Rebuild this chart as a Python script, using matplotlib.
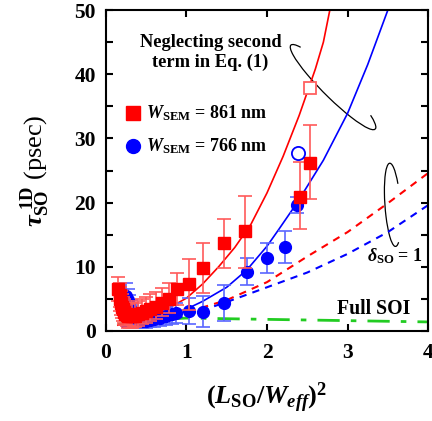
# tau_SO^1D vs (L_SO/W_eff)^2 for two wire widths, with fits and limiting cases.
import matplotlib
matplotlib.use('Agg')
import matplotlib.pyplot as plt
from matplotlib.patches import Arc

plt.rcParams['font.family'] = ['Liberation Serif', 'DejaVu Serif']
plt.rcParams['font.weight'] = 'bold'
plt.rcParams['mathtext.fontset'] = 'custom'
plt.rcParams['mathtext.rm'] = 'Liberation Serif:bold'
plt.rcParams['mathtext.it'] = 'Liberation Serif:italic:bold'
plt.rcParams['mathtext.bf'] = 'Liberation Serif:bold'

RED, BLUE, GREEN = '#ff0000', '#0000ff', '#22cc22'
RED_BAR, BLUE_BAR = '#ff5a5a', '#5a66ff'

# W_SEM = 861 nm (filled squares)
red_x = [0.15, 0.17, 0.18, 0.19, 0.20, 0.21, 0.22, 0.24, 0.26, 0.28, 0.30, 0.33, 0.36,
         0.40, 0.45, 0.50, 0.55, 0.62, 0.70, 0.78, 0.88, 1.03, 1.20, 1.47, 1.73, 2.41, 2.53]
red_y = [6.5, 5.6, 4.9, 4.3, 3.8, 3.4, 3.0, 2.7, 2.5, 2.3, 2.3, 2.3, 2.4,
         2.6, 2.8, 3.1, 3.4, 3.8, 4.3, 5.0, 6.5, 7.3, 9.8, 13.7, 15.6, 20.9, 26.2]
red_lo = [1.8, 1.8, 1.8, 1.8, 1.8, 1.8, 1.8, 1.8, 1.8, 1.8, 1.8, 1.8, 1.8,
          1.8, 1.8, 1.8, 1.8, 2.0, 2.0, 2.2, 2.4, 4.0, 3.9, 3.9, 5.8, 5.0, 5.6]
red_hi = [1.9, 1.9, 1.9, 1.9, 1.9, 1.9, 1.9, 1.9, 1.9, 1.9, 2.0, 2.0, 2.0,
          2.0, 2.1, 2.2, 2.3, 2.3, 2.4, 2.4, 2.6, 3.9, 3.9, 3.8, 5.4, 5.4, 5.9]

# W_SEM = 766 nm (filled circles)
blue_x = [0.25, 0.27, 0.29, 0.31, 0.33, 0.36, 0.40, 0.45, 0.50, 0.55, 0.60, 0.67, 0.75,
          0.82, 0.87, 1.03, 1.20, 1.47, 1.75, 2.00, 2.22, 2.37]
blue_y = [5.5, 4.8, 4.0, 3.3, 2.7, 2.2, 1.8, 1.6, 1.6, 1.7, 1.8, 2.0, 2.3,
          2.6, 2.8, 3.1, 3.0, 4.4, 9.2, 11.4, 13.1, 19.6]
blue_err = [2.0, 1.8, 1.6, 1.5, 1.4, 1.3, 1.2, 1.1, 1.1, 1.1, 1.2, 1.3, 1.4,
            1.5, 1.6, 2.0, 2.4, 2.8, 2.1, 2.3, 2.5, 1.3]

# "neglecting second term" open points
open_red = (2.53, 37.9)
open_blue = (2.39, 27.7)

# fitted curves (solid), delta_SO = 1 (dashed), full SOI (dash-dot)
red_fit_x = [0.15, 0.4, 0.6, 0.8, 1.0, 1.2, 1.4, 1.6, 1.8, 2.0, 2.2, 2.4, 2.6, 2.7, 2.78]
red_fit_y = [0.9, 1.8, 2.6, 3.7, 5.1, 7.3, 10.0, 13.0, 16.6, 21.5, 27.2, 33.6, 40.8, 45.0, 50.0]
blue_fit_x = [0.2, 0.6, 0.8, 1.0, 1.2, 1.5, 1.75, 2.0, 2.14, 2.37, 2.7, 3.0, 3.25, 3.5]
blue_fit_y = [0.7, 1.8, 2.5, 3.4, 4.6, 6.8, 9.5, 13.2, 15.7, 19.9, 26.6, 33.9, 41.5, 50.0]
red_dash_x = [0.2, 0.6, 1.0, 1.5, 2.0, 2.5, 3.0, 3.5, 4.0]
red_dash_y = [0.8, 1.6, 2.9, 4.8, 7.6, 11.6, 15.4, 19.9, 24.6]
blue_dash_x = [0.2, 0.6, 1.0, 1.5, 2.0, 2.5, 3.0, 3.5, 4.0]
blue_dash_y = [0.6, 1.2, 2.4, 4.5, 6.8, 9.1, 12.0, 15.4, 19.6]
soi_x = [0.15, 0.3, 0.5, 1.0, 2.0, 3.0, 4.0]
soi_y = [1.0, 1.4, 1.7, 2.0, 1.8, 1.6, 1.4]

fig = plt.figure(figsize=(4.32, 4.21), dpi=100)
ax = fig.add_axes([0.245, 0.214, 0.746, 0.762])

ax.plot(soi_x, soi_y, color=GREEN, lw=2.0, dashes=(8, 4, 2, 4), zorder=2)
ax.plot(red_dash_x, red_dash_y, color=RED, lw=1.5, dashes=(3.5, 3), zorder=2)
ax.plot(blue_dash_x, blue_dash_y, color=BLUE, lw=1.5, dashes=(3.5, 3), zorder=2)
ax.plot(red_fit_x, red_fit_y, color=RED, lw=1.2, zorder=2)
ax.plot(blue_fit_x, blue_fit_y, color=BLUE, lw=1.2, zorder=2)

ax.errorbar(blue_x, blue_y, yerr=blue_err, fmt='o', ms=8.5, color=BLUE,
            ecolor=BLUE_BAR, elinewidth=1.2, capsize=5, capthick=1.2, zorder=3)
ax.errorbar(red_x, red_y, yerr=[red_lo, red_hi], fmt='s', ms=9, color=RED,
            ecolor=RED_BAR, elinewidth=1.2, capsize=5, capthick=1.2, zorder=4)
ax.plot(*open_red, 's', ms=9, mfc='white', mec='#ff6060', mew=1.3, zorder=5)
ax.plot(*open_blue, 'o', ms=9.5, mfc='white', mec=BLUE, mew=1.3, zorder=5)

# legend drawn by hand
ax.plot(0.335, 34.0, 's', ms=10, color=RED)
ax.plot(0.335, 28.8, 'o', ms=10, color=BLUE)
ax.text(0.5, 34.0, r'$W_{\rm SEM}$ = 861 nm', fontsize=13, va='center', ha='left')
ax.text(0.5, 28.8, r'$W_{\rm SEM}$ = 766 nm', fontsize=13, va='center', ha='left')

ax.text(1.3, 43.4, 'Neglecting second\nterm in Eq. (1)', fontsize=13.3, ha='center',
        va='center', multialignment='center', linespacing=1.15)
ax.text(3.24, 11.6, r'$\delta_{\rm SO}$ = 1', fontsize=13, ha='left', va='center')
ax.text(2.87, 3.4, 'Full SOI', fontsize=14.2, ha='left', va='center')

# annotation ellipses (open on one side); arc angles are geometric, not parametric
ax.add_patch(Arc((0.705, 0.760), 0.37, 0.065, angle=-45, theta1=174, theta2=368,
                 transform=ax.transAxes, color='black', lw=0.9))
ax.add_patch(Arc((0.89, 0.393), 0.048, 0.26, angle=4, theta1=72, theta2=275,
                 transform=ax.transAxes, color='black', lw=0.9))

ax.set_xlim(0, 4)
ax.set_ylim(0, 50)
ax.set_xticks([0, 1, 2, 3, 4])
ax.set_yticks([0, 10, 20, 30, 40, 50])
ax.set_yticks([5, 15, 25, 35, 45], minor=True)
ax.tick_params(which='both', direction='in', top=True, right=True, length=5, width=1.5,
               labelsize=15.5)
ax.tick_params(axis='x', pad=9)
ax.tick_params(axis='y', pad=7)
for s in ax.spines.values():
    s.set_linewidth(1.5)

ax.set_xlabel(r'$(L_{\rm SO}/W_{eff})^2$', fontsize=19, labelpad=12)
ax.set_ylabel(r'$\tau_{\rm SO}^{\ \rm 1D}$ (psec)', fontsize=19, labelpad=16)

fig.savefig('out.png', dpi=100, facecolor='white')
